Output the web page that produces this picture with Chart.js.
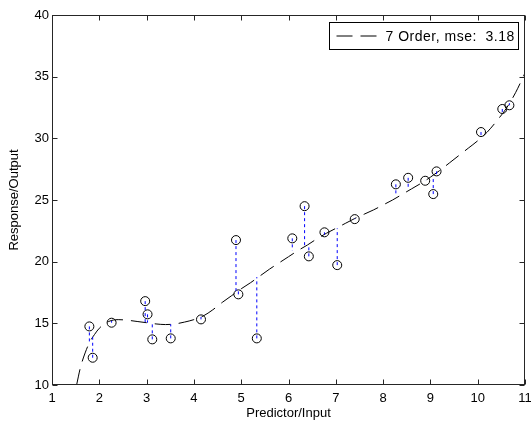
<!DOCTYPE html>
<html>
<head>
<meta charset="utf-8">
<script src="https://cdn.jsdelivr.net/npm/chart.js@4"></script>
<style>
  body { margin: 0; background: #fff; }
  .wrap { width: 531px; height: 424px; }
</style>
</head>
<body>
<div class="wrap"><canvas id="myChart"></canvas></div>
<script>
// observed points
const xs = [1.79, 1.86, 2.26, 2.97, 3.02, 3.12, 3.51, 4.15, 4.89, 4.94, 5.33, 6.08, 6.34,
            6.43, 6.76, 7.03, 7.40, 8.27, 8.53, 8.89, 9.06, 9.13, 10.07, 10.52, 10.67];
const ys = [14.75, 12.21, 15.05, 16.8, 15.73, 13.7, 13.78, 15.32, 21.75, 17.35, 13.78, 21.89, 24.5,
            20.43, 22.38, 19.72, 23.45, 26.27, 26.8, 26.56, 25.48, 27.32, 30.51, 32.38, 32.68];
// fitted value at each point (end of residual line)
const fitted = [13.5, 13.9, 15.2, 15.07, 15.05, 15.0, 14.92, 15.52, 17.6, 17.7, 18.75, 20.9, 21.2,
                21.35, 22.2, 22.7, 23.5, 25.3, 25.9, 26.55, 26.8, 27.1, 30.05, 32.0, 32.85];

// 7th order fit curve
const curveX = [1.52, 1.6, 1.7, 1.8, 1.9, 2.0, 2.2, 2.4, 2.6, 2.8, 3.0, 3.2, 3.4, 3.6, 3.8, 4.0,
                4.2, 4.4, 4.6, 4.8, 5.0, 5.2, 5.4, 5.6, 5.8, 6.0, 6.2, 6.4, 6.6, 6.8, 7.0, 7.2,
                7.4, 7.6, 7.8, 8.0, 8.2, 8.4, 8.6, 8.8, 9.0, 9.2, 9.4, 9.6, 9.8, 10.0, 10.2,
                10.4, 10.6, 10.8, 11.0];
const curveY = [10, 11.4, 12.6, 13.5, 14.1, 14.6, 15.15, 15.3, 15.25, 15.15, 15.05, 14.95, 14.9, 14.95, 15.1, 15.3,
                15.6, 16.1, 16.7, 17.25, 17.8, 18.3, 18.85, 19.4, 19.9, 20.4, 20.9, 21.35, 21.85, 22.3, 22.7, 23.1,
                23.5, 23.85, 24.2, 24.6, 25.0, 25.45, 25.9, 26.35, 26.85, 27.4, 28.0, 28.6, 29.2, 29.8, 30.5,
                31.4, 32.4, 33.7, 35.3];

const xTicks = [1, 2, 3, 4, 5, 6, 7, 8, 9, 10, 11];
const yTicks = [10, 15, 20, 25, 30, 35, 40];
const legendText = '7 Order, mse:  3.18';

const FONT = { family: 'Arial, "Liberation Sans", sans-serif', size: 13 };

let residuals = [];
xs.forEach((x, i) => {
    residuals.push({ x: x, y: ys[i] });
    residuals.push({ x: x, y: fitted[i] });
    residuals.push({ x: x, y: null });
});

// box, inward ticks and legend, MATLAB style
const matlabFrame = {
    id: 'matlabFrame',
    afterDraw(chart) {
        const ctx = chart.ctx;
        const a = chart.chartArea;
        const sx = chart.scales.x, sy = chart.scales.y;
        const L = Math.round(a.left) + 0.5, R = Math.round(a.right) - 0.5;
        const T = Math.round(a.top) + 0.5, B = Math.round(a.bottom) - 0.5;
        ctx.save();
        ctx.strokeStyle = '#262626';
        ctx.lineWidth = 1;
        ctx.setLineDash([]);
        ctx.strokeRect(L, T, R - L, B - T);
        ctx.beginPath();
        xTicks.forEach(v => {
            const px = Math.round(sx.getPixelForValue(v)) + 0.5;
            ctx.moveTo(px, B); ctx.lineTo(px, B - 5);
            ctx.moveTo(px, T); ctx.lineTo(px, T + 5);
        });
        yTicks.forEach(v => {
            const py = Math.round(sy.getPixelForValue(v)) + 0.5;
            ctx.moveTo(L, py); ctx.lineTo(L + 5, py);
            ctx.moveTo(R, py); ctx.lineTo(R - 5, py);
        });
        ctx.stroke();

        // legend
        ctx.font = '14px Arial, "Liberation Sans", sans-serif';
        ctx.letterSpacing = '0.5px';
        const tw = ctx.measureText(legendText).width;
        const bw = Math.round(tw + 60), bh = 27;
        const bx = Math.round(R - 7 - bw) + 0.5, by = Math.round(T + 7) - 0.5;
        ctx.fillStyle = '#fff';
        ctx.fillRect(bx, by, bw, bh);
        ctx.strokeStyle = '#000';
        ctx.strokeRect(bx, by, bw, bh);
        ctx.beginPath();
        ctx.setLineDash([16, 8]);
        ctx.moveTo(bx + 7, by + bh / 2);
        ctx.lineTo(bx + 55, by + bh / 2);
        ctx.stroke();
        ctx.setLineDash([]);
        ctx.fillStyle = '#000';
        ctx.textBaseline = 'middle';
        ctx.fillText(legendText, bx + 56, by + bh / 2 + 1);
        ctx.restore();
    }
};

var ctx = document.getElementById('myChart').getContext('2d');
var myChart = new Chart(ctx, {
    type: 'scatter',
    data: {
        datasets: [{
            label: 'residuals',
            data: residuals,
            showLine: true,
            spanGaps: false,
            borderColor: '#0000ff',
            borderWidth: 1,
            borderDash: [3, 3],
            pointRadius: 0
        }, {
            label: '7 Order',
            data: curveX.map((x, i) => ({ x: x, y: curveY[i] })),
            showLine: true,
            borderColor: '#000',
            borderWidth: 1,
            borderDash: [16, 8],
            cubicInterpolationMode: 'monotone',
            pointRadius: 0
        }, {
            label: 'data',
            data: xs.map((x, i) => ({ x: x, y: ys[i] })),
            pointStyle: 'circle',
            pointRadius: 4.5,
            borderColor: '#000',
            borderWidth: 1,
            backgroundColor: 'rgba(0,0,0,0)'
        }]
    },
    options: {
        responsive: true,
        maintainAspectRatio: false,
        animation: false,
        layout: { padding: { top: 15, right: 6, left: 0, bottom: 0 } },
        plugins: {
            legend: { display: false },
            tooltip: { enabled: false }
        },
        scales: {
            x: {
                type: 'linear',
                min: 1,
                max: 11,
                grid: { display: false, drawTicks: false },
                border: { display: false },
                ticks: { stepSize: 1, font: FONT, color: '#000', padding: 6, maxRotation: 0, autoSkip: false },
                title: { display: true, text: 'Predictor/Input', font: FONT, color: '#000', padding: { top: 0, bottom: 3 } },
                afterFit(s) { s.height = 39; s.paddingLeft = 0; s.paddingRight = 0; }
            },
            y: {
                type: 'linear',
                min: 10,
                max: 40,
                grid: { display: false, drawTicks: false },
                border: { display: false },
                ticks: { stepSize: 5, font: FONT, color: '#000', padding: 3 },
                title: { display: true, text: 'Response/Output', font: FONT, color: '#000', padding: { top: 7, bottom: 0 } },
                afterFit(s) { s.width = 52; s.paddingTop = 0; s.paddingBottom = 0; }
            }
        }
    },
    plugins: [matlabFrame]
});
</script>
</body>
</html>
